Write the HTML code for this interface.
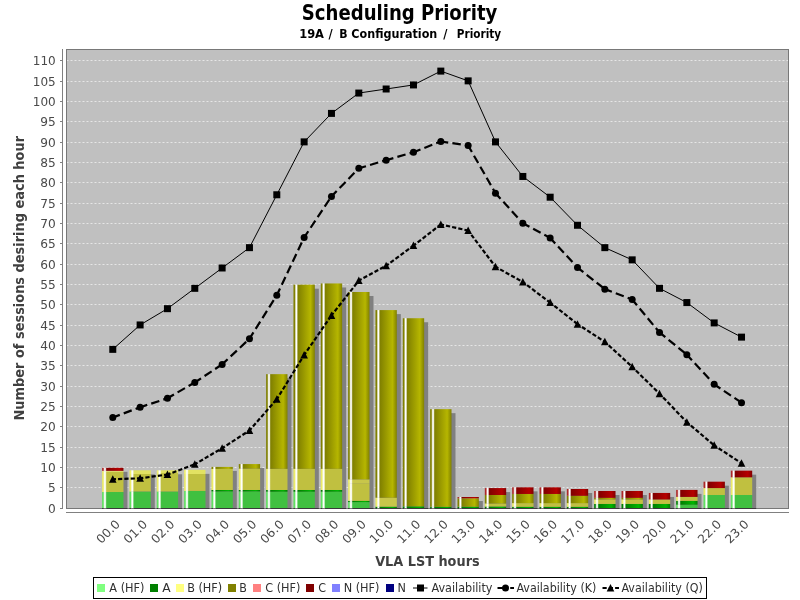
<!DOCTYPE html>
<html lang="en"><head><meta charset="utf-8"><title>Scheduling Priority</title>
<style>html,body{margin:0;padding:0;background:#fff;overflow:hidden}svg{display:block;will-change:transform}text{font-family:"DejaVu Sans Condensed","DejaVu Sans","Liberation Sans",sans-serif}text.yt,text.xt{font-family:"DejaVu Sans","Liberation Sans",sans-serif}</style></head><body>
<svg width="800" height="600" viewBox="0 0 800 600">
<defs>
<linearGradient id="pg" x1="0" x2="1" y1="0" y2="0"><stop offset="0" stop-color="#60e060"/><stop offset="0.05" stop-color="#60e060"/><stop offset="0.12" stop-color="#fff"/><stop offset="0.15" stop-color="#fff"/><stop offset="0.215" stop-color="#40c040"/><stop offset="0.80" stop-color="#40c040"/><stop offset="1" stop-color="#40c040"/></linearGradient>
<linearGradient id="pG" x1="0" x2="1" y1="0" y2="0"><stop offset="0" stop-color="#008000"/><stop offset="0.05" stop-color="#008000"/><stop offset="0.12" stop-color="#fff"/><stop offset="0.15" stop-color="#fff"/><stop offset="0.215" stop-color="#008000"/><stop offset="0.80" stop-color="#00b600"/><stop offset="1" stop-color="#008000"/></linearGradient>
<linearGradient id="py" x1="0" x2="1" y1="0" y2="0"><stop offset="0" stop-color="#eaea68"/><stop offset="0.05" stop-color="#eaea68"/><stop offset="0.12" stop-color="#fff"/><stop offset="0.15" stop-color="#fff"/><stop offset="0.215" stop-color="#c0c040"/><stop offset="0.80" stop-color="#c0c040"/><stop offset="1" stop-color="#c0c040"/></linearGradient>
<linearGradient id="pm" x1="0" x2="1" y1="0" y2="0"><stop offset="0" stop-color="#ecec6a"/><stop offset="0.05" stop-color="#ecec6a"/><stop offset="0.12" stop-color="#fff"/><stop offset="0.15" stop-color="#fff"/><stop offset="0.215" stop-color="#c8c64a"/><stop offset="0.80" stop-color="#c8c64a"/><stop offset="1" stop-color="#c8c64a"/></linearGradient>
<linearGradient id="pl" x1="0" x2="1" y1="0" y2="0"><stop offset="0" stop-color="#f0f06e"/><stop offset="0.05" stop-color="#f0f06e"/><stop offset="0.12" stop-color="#fff"/><stop offset="0.15" stop-color="#fff"/><stop offset="0.215" stop-color="#e2e262"/><stop offset="0.80" stop-color="#e2e262"/><stop offset="1" stop-color="#e2e262"/></linearGradient>
<linearGradient id="pY" x1="0" x2="1" y1="0" y2="0"><stop offset="0" stop-color="#808000"/><stop offset="0.05" stop-color="#808000"/><stop offset="0.12" stop-color="#fff"/><stop offset="0.15" stop-color="#fff"/><stop offset="0.215" stop-color="#808000"/><stop offset="0.80" stop-color="#b6b600"/><stop offset="1" stop-color="#808000"/></linearGradient>
<linearGradient id="pR" x1="0" x2="1" y1="0" y2="0"><stop offset="0" stop-color="#ac2828"/><stop offset="0.05" stop-color="#ac2828"/><stop offset="0.12" stop-color="#fff"/><stop offset="0.15" stop-color="#fff"/><stop offset="0.215" stop-color="#800000"/><stop offset="0.80" stop-color="#b60000"/><stop offset="1" stop-color="#800000"/></linearGradient>
<clipPath id="clip"><rect x="66" y="49" width="722" height="459"/></clipPath>
</defs>
<rect width="800" height="600" fill="#fff"/>
<text id="title" x="399.6" y="19.5" text-anchor="middle" font-size="21" font-weight="bold" fill="#000" lengthAdjust="spacingAndGlyphs" textLength="195.5">Scheduling Priority</text>
<text id="sub" y="38" font-size="12" font-weight="bold" fill="#000" style="white-space:pre" xml:space="preserve"><tspan x="299.2" textLength="24.8" lengthAdjust="spacingAndGlyphs">19A</tspan><tspan> </tspan><tspan x="328.5" textLength="4.2" lengthAdjust="spacingAndGlyphs">/</tspan><tspan> </tspan><tspan x="339.2" textLength="8.3" lengthAdjust="spacingAndGlyphs">B</tspan><tspan> </tspan><tspan x="351.3" textLength="86" lengthAdjust="spacingAndGlyphs">Configuration</tspan><tspan> </tspan><tspan x="443.3" textLength="4.2" lengthAdjust="spacingAndGlyphs">/</tspan><tspan> </tspan><tspan> </tspan><tspan x="456.8" textLength="44.3" lengthAdjust="spacingAndGlyphs">Priority</tspan></text>
<rect x="66" y="49" width="723" height="460" fill="#c0c0c0"/>
<line x1="66.5" y1="508.5" x2="788" y2="508.5" stroke="#fff" stroke-opacity="0.6" stroke-width="1" stroke-dasharray="2 2"/>
<line x1="66.5" y1="487.5" x2="788" y2="487.5" stroke="#fff" stroke-opacity="0.6" stroke-width="1" stroke-dasharray="2 2"/>
<line x1="66.5" y1="467.5" x2="788" y2="467.5" stroke="#fff" stroke-opacity="0.6" stroke-width="1" stroke-dasharray="2 2"/>
<line x1="66.5" y1="447.5" x2="788" y2="447.5" stroke="#fff" stroke-opacity="0.6" stroke-width="1" stroke-dasharray="2 2"/>
<line x1="66.5" y1="426.5" x2="788" y2="426.5" stroke="#fff" stroke-opacity="0.6" stroke-width="1" stroke-dasharray="2 2"/>
<line x1="66.5" y1="406.5" x2="788" y2="406.5" stroke="#fff" stroke-opacity="0.6" stroke-width="1" stroke-dasharray="2 2"/>
<line x1="66.5" y1="386.5" x2="788" y2="386.5" stroke="#fff" stroke-opacity="0.6" stroke-width="1" stroke-dasharray="2 2"/>
<line x1="66.5" y1="365.5" x2="788" y2="365.5" stroke="#fff" stroke-opacity="0.6" stroke-width="1" stroke-dasharray="2 2"/>
<line x1="66.5" y1="345.5" x2="788" y2="345.5" stroke="#fff" stroke-opacity="0.6" stroke-width="1" stroke-dasharray="2 2"/>
<line x1="66.5" y1="325.5" x2="788" y2="325.5" stroke="#fff" stroke-opacity="0.6" stroke-width="1" stroke-dasharray="2 2"/>
<line x1="66.5" y1="304.5" x2="788" y2="304.5" stroke="#fff" stroke-opacity="0.6" stroke-width="1" stroke-dasharray="2 2"/>
<line x1="66.5" y1="284.5" x2="788" y2="284.5" stroke="#fff" stroke-opacity="0.6" stroke-width="1" stroke-dasharray="2 2"/>
<line x1="66.5" y1="264.5" x2="788" y2="264.5" stroke="#fff" stroke-opacity="0.6" stroke-width="1" stroke-dasharray="2 2"/>
<line x1="66.5" y1="243.5" x2="788" y2="243.5" stroke="#fff" stroke-opacity="0.6" stroke-width="1" stroke-dasharray="2 2"/>
<line x1="66.5" y1="223.5" x2="788" y2="223.5" stroke="#fff" stroke-opacity="0.6" stroke-width="1" stroke-dasharray="2 2"/>
<line x1="66.5" y1="203.5" x2="788" y2="203.5" stroke="#fff" stroke-opacity="0.6" stroke-width="1" stroke-dasharray="2 2"/>
<line x1="66.5" y1="182.5" x2="788" y2="182.5" stroke="#fff" stroke-opacity="0.6" stroke-width="1" stroke-dasharray="2 2"/>
<line x1="66.5" y1="162.5" x2="788" y2="162.5" stroke="#fff" stroke-opacity="0.6" stroke-width="1" stroke-dasharray="2 2"/>
<line x1="66.5" y1="142.5" x2="788" y2="142.5" stroke="#fff" stroke-opacity="0.6" stroke-width="1" stroke-dasharray="2 2"/>
<line x1="66.5" y1="121.5" x2="788" y2="121.5" stroke="#fff" stroke-opacity="0.6" stroke-width="1" stroke-dasharray="2 2"/>
<line x1="66.5" y1="101.5" x2="788" y2="101.5" stroke="#fff" stroke-opacity="0.6" stroke-width="1" stroke-dasharray="2 2"/>
<line x1="66.5" y1="81.5" x2="788" y2="81.5" stroke="#fff" stroke-opacity="0.6" stroke-width="1" stroke-dasharray="2 2"/>
<line x1="66.5" y1="60.5" x2="788" y2="60.5" stroke="#fff" stroke-opacity="0.6" stroke-width="1" stroke-dasharray="2 2"/>
<g clip-path="url(#clip)">
<rect x="106.10" y="471.81" width="21.36" height="40.19" fill="#808080"/>
<rect x="133.44" y="474.29" width="21.36" height="37.71" fill="#808080"/>
<rect x="160.77" y="474.29" width="21.36" height="37.71" fill="#808080"/>
<rect x="188.11" y="473.84" width="21.36" height="38.16" fill="#808080"/>
<rect x="215.45" y="470.91" width="21.36" height="41.09" fill="#808080"/>
<rect x="242.78" y="468.07" width="21.36" height="43.93" fill="#808080"/>
<rect x="270.12" y="378.16" width="21.36" height="133.84" fill="#808080"/>
<rect x="297.46" y="288.67" width="21.36" height="223.33" fill="#808080"/>
<rect x="324.79" y="287.45" width="21.36" height="224.55" fill="#808080"/>
<rect x="352.13" y="295.99" width="21.36" height="216.01" fill="#808080"/>
<rect x="379.47" y="314.09" width="21.36" height="197.91" fill="#808080"/>
<rect x="406.80" y="322.23" width="21.36" height="189.77" fill="#808080"/>
<rect x="434.14" y="413.15" width="21.36" height="98.85" fill="#808080"/>
<rect x="461.48" y="501.02" width="21.36" height="10.98" fill="#808080"/>
<rect x="488.81" y="492.07" width="21.36" height="19.93" fill="#808080"/>
<rect x="516.15" y="491.33" width="21.36" height="20.67" fill="#808080"/>
<rect x="543.49" y="491.33" width="21.36" height="20.67" fill="#808080"/>
<rect x="570.82" y="493.00" width="21.36" height="19.00" fill="#808080"/>
<rect x="598.16" y="495.00" width="21.36" height="17.00" fill="#808080"/>
<rect x="625.50" y="495.00" width="21.36" height="17.00" fill="#808080"/>
<rect x="652.83" y="496.95" width="21.36" height="15.05" fill="#808080"/>
<rect x="680.17" y="493.90" width="21.36" height="18.10" fill="#808080"/>
<rect x="707.51" y="485.68" width="21.36" height="26.32" fill="#808080"/>
<rect x="734.84" y="474.66" width="21.36" height="37.34" fill="#808080"/>
<rect x="102.10" y="492.01" width="21.36" height="15.99" fill="url(#pg)"/>
<rect x="102.10" y="471.79" width="21.36" height="20.22" fill="url(#py)"/>
<rect x="102.10" y="470.86" width="21.36" height="0.94" fill="url(#pl)"/>
<rect x="102.10" y="467.81" width="21.36" height="3.05" fill="url(#pR)"/>
<rect x="129.44" y="491.44" width="21.36" height="16.56" fill="url(#pg)"/>
<rect x="129.44" y="473.99" width="21.36" height="17.45" fill="url(#py)"/>
<rect x="129.44" y="470.29" width="21.36" height="3.70" fill="url(#pl)"/>
<rect x="156.77" y="491.44" width="21.36" height="16.56" fill="url(#pg)"/>
<rect x="156.77" y="473.02" width="21.36" height="18.43" fill="url(#py)"/>
<rect x="156.77" y="470.29" width="21.36" height="2.73" fill="url(#pl)"/>
<rect x="184.11" y="490.91" width="21.36" height="17.09" fill="url(#pg)"/>
<rect x="184.11" y="473.99" width="21.36" height="16.92" fill="url(#py)"/>
<rect x="184.11" y="469.84" width="21.36" height="4.15" fill="url(#pl)"/>
<rect x="211.45" y="491.44" width="21.36" height="16.56" fill="url(#pg)"/>
<rect x="211.45" y="489.98" width="21.36" height="1.46" fill="url(#pG)"/>
<rect x="211.45" y="468.95" width="21.36" height="21.03" fill="url(#py)"/>
<rect x="211.45" y="466.91" width="21.36" height="2.03" fill="url(#pY)"/>
<rect x="238.78" y="491.44" width="21.36" height="16.56" fill="url(#pg)"/>
<rect x="238.78" y="489.98" width="21.36" height="1.46" fill="url(#pG)"/>
<rect x="238.78" y="468.62" width="21.36" height="21.36" fill="url(#py)"/>
<rect x="238.78" y="464.07" width="21.36" height="4.56" fill="url(#pY)"/>
<rect x="266.12" y="491.73" width="21.36" height="16.27" fill="url(#pg)"/>
<rect x="266.12" y="489.98" width="21.36" height="1.75" fill="url(#pG)"/>
<rect x="266.12" y="468.83" width="21.36" height="21.15" fill="url(#py)"/>
<rect x="266.12" y="374.16" width="21.36" height="94.66" fill="url(#pY)"/>
<rect x="293.46" y="491.73" width="21.36" height="16.27" fill="url(#pg)"/>
<rect x="293.46" y="489.98" width="21.36" height="1.75" fill="url(#pG)"/>
<rect x="293.46" y="468.83" width="21.36" height="21.15" fill="url(#py)"/>
<rect x="293.46" y="284.67" width="21.36" height="184.16" fill="url(#pY)"/>
<rect x="320.79" y="491.73" width="21.36" height="16.27" fill="url(#pg)"/>
<rect x="320.79" y="489.98" width="21.36" height="1.75" fill="url(#pG)"/>
<rect x="320.79" y="468.83" width="21.36" height="21.15" fill="url(#py)"/>
<rect x="320.79" y="283.45" width="21.36" height="185.38" fill="url(#pY)"/>
<rect x="348.13" y="502.10" width="21.36" height="5.90" fill="url(#pg)"/>
<rect x="348.13" y="500.84" width="21.36" height="1.26" fill="url(#pG)"/>
<rect x="348.13" y="483.19" width="21.36" height="17.66" fill="url(#py)"/>
<rect x="348.13" y="479.36" width="21.36" height="3.82" fill="url(#pm)"/>
<rect x="348.13" y="291.99" width="21.36" height="187.37" fill="url(#pY)"/>
<rect x="375.47" y="506.66" width="21.36" height="1.34" fill="url(#pG)"/>
<rect x="375.47" y="497.71" width="21.36" height="8.95" fill="url(#pm)"/>
<rect x="375.47" y="310.09" width="21.36" height="187.62" fill="url(#pY)"/>
<rect x="402.80" y="506.37" width="21.36" height="1.63" fill="url(#pG)"/>
<rect x="402.80" y="318.23" width="21.36" height="188.14" fill="url(#pY)"/>
<rect x="430.14" y="506.78" width="21.36" height="1.22" fill="url(#pG)"/>
<rect x="430.14" y="409.15" width="21.36" height="97.63" fill="url(#pY)"/>
<rect x="457.48" y="506.70" width="21.36" height="1.30" fill="url(#pG)"/>
<rect x="457.48" y="498.32" width="21.36" height="8.38" fill="url(#pY)"/>
<rect x="457.48" y="497.02" width="21.36" height="1.30" fill="url(#pR)"/>
<rect x="484.81" y="506.49" width="21.36" height="1.51" fill="url(#pG)"/>
<rect x="484.81" y="503.53" width="21.36" height="2.97" fill="url(#py)"/>
<rect x="484.81" y="494.98" width="21.36" height="8.54" fill="url(#pY)"/>
<rect x="484.81" y="488.07" width="21.36" height="6.92" fill="url(#pR)"/>
<rect x="512.15" y="506.78" width="21.36" height="1.22" fill="url(#pG)"/>
<rect x="512.15" y="503.12" width="21.36" height="3.66" fill="url(#py)"/>
<rect x="512.15" y="493.97" width="21.36" height="9.15" fill="url(#pY)"/>
<rect x="512.15" y="487.33" width="21.36" height="6.63" fill="url(#pR)"/>
<rect x="539.49" y="506.78" width="21.36" height="1.22" fill="url(#pG)"/>
<rect x="539.49" y="503.12" width="21.36" height="3.66" fill="url(#py)"/>
<rect x="539.49" y="493.97" width="21.36" height="9.15" fill="url(#pY)"/>
<rect x="539.49" y="487.33" width="21.36" height="6.63" fill="url(#pR)"/>
<rect x="566.82" y="506.78" width="21.36" height="1.22" fill="url(#pG)"/>
<rect x="566.82" y="503.12" width="21.36" height="3.66" fill="url(#py)"/>
<rect x="566.82" y="495.80" width="21.36" height="7.32" fill="url(#pY)"/>
<rect x="566.82" y="489.00" width="21.36" height="6.79" fill="url(#pR)"/>
<rect x="594.16" y="503.93" width="21.36" height="4.07" fill="url(#pG)"/>
<rect x="594.16" y="499.46" width="21.36" height="4.47" fill="url(#py)"/>
<rect x="594.16" y="497.83" width="21.36" height="1.63" fill="url(#pY)"/>
<rect x="594.16" y="491.00" width="21.36" height="6.83" fill="url(#pR)"/>
<rect x="621.50" y="503.93" width="21.36" height="4.07" fill="url(#pG)"/>
<rect x="621.50" y="499.46" width="21.36" height="4.47" fill="url(#py)"/>
<rect x="621.50" y="497.83" width="21.36" height="1.63" fill="url(#pY)"/>
<rect x="621.50" y="491.00" width="21.36" height="6.83" fill="url(#pR)"/>
<rect x="648.83" y="503.93" width="21.36" height="4.07" fill="url(#pG)"/>
<rect x="648.83" y="499.46" width="21.36" height="4.47" fill="url(#py)"/>
<rect x="648.83" y="492.95" width="21.36" height="6.51" fill="url(#pR)"/>
<rect x="676.17" y="504.75" width="21.36" height="3.25" fill="url(#pg)"/>
<rect x="676.17" y="500.88" width="21.36" height="3.86" fill="url(#pG)"/>
<rect x="676.17" y="496.89" width="21.36" height="3.99" fill="url(#py)"/>
<rect x="676.17" y="489.90" width="21.36" height="7.00" fill="url(#pR)"/>
<rect x="703.51" y="494.98" width="21.36" height="13.02" fill="url(#pg)"/>
<rect x="703.51" y="488.07" width="21.36" height="6.92" fill="url(#py)"/>
<rect x="703.51" y="481.68" width="21.36" height="6.39" fill="url(#pR)"/>
<rect x="730.84" y="494.98" width="21.36" height="13.02" fill="url(#pg)"/>
<rect x="730.84" y="477.29" width="21.36" height="17.70" fill="url(#py)"/>
<rect x="730.84" y="470.66" width="21.36" height="6.63" fill="url(#pR)"/>
</g>
<g fill="none" stroke="#000"><line x1="112.78" y1="349.35" x2="140.12" y2="324.94" stroke-width="1"/><line x1="140.12" y1="324.94" x2="167.45" y2="308.67" stroke-width="1"/><line x1="167.45" y1="308.67" x2="194.79" y2="288.33" stroke-width="1"/><line x1="194.79" y1="288.33" x2="222.13" y2="267.99" stroke-width="1"/><line x1="222.13" y1="267.99" x2="249.46" y2="247.65" stroke-width="1"/><line x1="249.46" y1="247.65" x2="276.80" y2="194.76" stroke-width="1"/><line x1="276.80" y1="194.76" x2="304.14" y2="141.88" stroke-width="1"/><line x1="304.14" y1="141.88" x2="331.47" y2="113.40" stroke-width="1"/><line x1="331.47" y1="113.40" x2="358.81" y2="93.06" stroke-width="1"/><line x1="358.81" y1="93.06" x2="386.15" y2="89.00" stroke-width="1"/><line x1="386.15" y1="89.00" x2="413.48" y2="84.93" stroke-width="1"/><line x1="413.48" y1="84.93" x2="440.82" y2="71.10" stroke-width="1"/><line x1="440.82" y1="71.10" x2="468.15" y2="80.86" stroke-width="1"/><line x1="468.15" y1="80.86" x2="495.49" y2="141.88" stroke-width="1"/><line x1="495.49" y1="141.88" x2="522.83" y2="176.46" stroke-width="1"/><line x1="522.83" y1="176.46" x2="550.16" y2="197.20" stroke-width="1"/><line x1="550.16" y1="197.20" x2="577.50" y2="225.27" stroke-width="1"/><line x1="577.50" y1="225.27" x2="604.84" y2="247.65" stroke-width="1"/><line x1="604.84" y1="247.65" x2="632.17" y2="259.85" stroke-width="1"/><line x1="632.17" y1="259.85" x2="659.51" y2="288.33" stroke-width="1"/><line x1="659.51" y1="288.33" x2="686.85" y2="302.57" stroke-width="1"/><line x1="686.85" y1="302.57" x2="714.18" y2="322.91" stroke-width="1"/><line x1="714.18" y1="322.91" x2="741.52" y2="337.14" stroke-width="1"/></g>
<g fill="none" stroke="#000"><line x1="112.78" y1="417.49" x2="140.12" y2="407.24" stroke-width="2.2" stroke-dasharray="8.5 4.2" stroke-dashoffset="1"/><line x1="140.12" y1="407.24" x2="167.45" y2="398.25" stroke-width="2.2" stroke-dasharray="8.5 4.2" stroke-dashoffset="1"/><line x1="167.45" y1="398.25" x2="194.79" y2="382.50" stroke-width="2.2" stroke-dasharray="8.5 4.2" stroke-dashoffset="1"/><line x1="194.79" y1="382.50" x2="222.13" y2="364.40" stroke-width="2.2" stroke-dasharray="8.5 4.2" stroke-dashoffset="1"/><line x1="222.13" y1="364.40" x2="249.46" y2="338.77" stroke-width="2.2" stroke-dasharray="8.5 4.2" stroke-dashoffset="1"/><line x1="249.46" y1="338.77" x2="276.80" y2="295.24" stroke-width="2.2" stroke-dasharray="8.5 4.2" stroke-dashoffset="1"/><line x1="276.80" y1="295.24" x2="304.14" y2="237.48" stroke-width="2.2" stroke-dasharray="8.5 4.2" stroke-dashoffset="1"/><line x1="304.14" y1="237.48" x2="331.47" y2="196.39" stroke-width="2.2" stroke-dasharray="8.5 4.2" stroke-dashoffset="1"/><line x1="331.47" y1="196.39" x2="358.81" y2="168.32" stroke-width="2.2" stroke-dasharray="8.5 4.2" stroke-dashoffset="1"/><line x1="358.81" y1="168.32" x2="386.15" y2="160.19" stroke-width="2.2" stroke-dasharray="8.5 4.2" stroke-dashoffset="1"/><line x1="386.15" y1="160.19" x2="413.48" y2="152.25" stroke-width="2.2" stroke-dasharray="8.5 4.2" stroke-dashoffset="1"/><line x1="413.48" y1="152.25" x2="440.82" y2="141.47" stroke-width="2.2" stroke-dasharray="8.5 4.2" stroke-dashoffset="1"/><line x1="440.82" y1="141.47" x2="468.15" y2="145.54" stroke-width="2.2" stroke-dasharray="8.5 4.2" stroke-dashoffset="1"/><line x1="468.15" y1="145.54" x2="495.49" y2="193.14" stroke-width="2.2" stroke-dasharray="8.5 4.2" stroke-dashoffset="1"/><line x1="495.49" y1="193.14" x2="522.83" y2="223.24" stroke-width="2.2" stroke-dasharray="8.5 4.2" stroke-dashoffset="1"/><line x1="522.83" y1="223.24" x2="550.16" y2="237.88" stroke-width="2.2" stroke-dasharray="8.5 4.2" stroke-dashoffset="1"/><line x1="550.16" y1="237.88" x2="577.50" y2="267.58" stroke-width="2.2" stroke-dasharray="8.5 4.2" stroke-dashoffset="1"/><line x1="577.50" y1="267.58" x2="604.84" y2="289.14" stroke-width="2.2" stroke-dasharray="8.5 4.2" stroke-dashoffset="1"/><line x1="604.84" y1="289.14" x2="632.17" y2="299.51" stroke-width="2.2" stroke-dasharray="8.5 4.2" stroke-dashoffset="1"/><line x1="632.17" y1="299.51" x2="659.51" y2="332.47" stroke-width="2.2" stroke-dasharray="8.5 4.2" stroke-dashoffset="1"/><line x1="659.51" y1="332.47" x2="686.85" y2="354.64" stroke-width="2.2" stroke-dasharray="8.5 4.2" stroke-dashoffset="1"/><line x1="686.85" y1="354.64" x2="714.18" y2="384.33" stroke-width="2.2" stroke-dasharray="8.5 4.2" stroke-dashoffset="1"/><line x1="714.18" y1="384.33" x2="741.52" y2="402.64" stroke-width="2.2" stroke-dasharray="8.5 4.2" stroke-dashoffset="1"/></g>
<g fill="none" stroke="#000"><line x1="112.78" y1="479.24" x2="140.12" y2="478.30" stroke-width="2.2" stroke-dasharray="4.2 2.1" stroke-dashoffset="1"/><line x1="140.12" y1="478.30" x2="167.45" y2="474.52" stroke-width="2.2" stroke-dasharray="4.2 2.1" stroke-dashoffset="1"/><line x1="167.45" y1="474.52" x2="194.79" y2="464.27" stroke-width="2.2" stroke-dasharray="4.2 2.1" stroke-dashoffset="1"/><line x1="194.79" y1="464.27" x2="222.13" y2="448.20" stroke-width="2.2" stroke-dasharray="4.2 2.1" stroke-dashoffset="1"/><line x1="222.13" y1="448.20" x2="249.46" y2="430.50" stroke-width="2.2" stroke-dasharray="4.2 2.1" stroke-dashoffset="1"/><line x1="249.46" y1="430.50" x2="276.80" y2="399.18" stroke-width="2.2" stroke-dasharray="4.2 2.1" stroke-dashoffset="1"/><line x1="276.80" y1="399.18" x2="304.14" y2="355.04" stroke-width="2.2" stroke-dasharray="4.2 2.1" stroke-dashoffset="1"/><line x1="304.14" y1="355.04" x2="331.47" y2="315.38" stroke-width="2.2" stroke-dasharray="4.2 2.1" stroke-dashoffset="1"/><line x1="331.47" y1="315.38" x2="358.81" y2="280.60" stroke-width="2.2" stroke-dasharray="4.2 2.1" stroke-dashoffset="1"/><line x1="358.81" y1="280.60" x2="386.15" y2="265.75" stroke-width="2.2" stroke-dasharray="4.2 2.1" stroke-dashoffset="1"/><line x1="386.15" y1="265.75" x2="413.48" y2="245.61" stroke-width="2.2" stroke-dasharray="4.2 2.1" stroke-dashoffset="1"/><line x1="413.48" y1="245.61" x2="440.82" y2="224.46" stroke-width="2.2" stroke-dasharray="4.2 2.1" stroke-dashoffset="1"/><line x1="440.82" y1="224.46" x2="468.15" y2="230.56" stroke-width="2.2" stroke-dasharray="4.2 2.1" stroke-dashoffset="1"/><line x1="468.15" y1="230.56" x2="495.49" y2="266.77" stroke-width="2.2" stroke-dasharray="4.2 2.1" stroke-dashoffset="1"/><line x1="495.49" y1="266.77" x2="522.83" y2="282.02" stroke-width="2.2" stroke-dasharray="4.2 2.1" stroke-dashoffset="1"/><line x1="522.83" y1="282.02" x2="550.16" y2="302.57" stroke-width="2.2" stroke-dasharray="4.2 2.1" stroke-dashoffset="1"/><line x1="550.16" y1="302.57" x2="577.50" y2="324.13" stroke-width="2.2" stroke-dasharray="4.2 2.1" stroke-dashoffset="1"/><line x1="577.50" y1="324.13" x2="604.84" y2="341.82" stroke-width="2.2" stroke-dasharray="4.2 2.1" stroke-dashoffset="1"/><line x1="604.84" y1="341.82" x2="632.17" y2="366.84" stroke-width="2.2" stroke-dasharray="4.2 2.1" stroke-dashoffset="1"/><line x1="632.17" y1="366.84" x2="659.51" y2="393.69" stroke-width="2.2" stroke-dasharray="4.2 2.1" stroke-dashoffset="1"/><line x1="659.51" y1="393.69" x2="686.85" y2="422.17" stroke-width="2.2" stroke-dasharray="4.2 2.1" stroke-dashoffset="1"/><line x1="686.85" y1="422.17" x2="714.18" y2="445.35" stroke-width="2.2" stroke-dasharray="4.2 2.1" stroke-dashoffset="1"/><line x1="714.18" y1="445.35" x2="741.52" y2="463.25" stroke-width="2.2" stroke-dasharray="4.2 2.1" stroke-dashoffset="1"/></g>
<rect x="109.28" y="345.85" width="7" height="7" fill="#000"/>
<rect x="136.62" y="321.44" width="7" height="7" fill="#000"/>
<rect x="163.95" y="305.17" width="7" height="7" fill="#000"/>
<rect x="191.29" y="284.83" width="7" height="7" fill="#000"/>
<rect x="218.63" y="264.49" width="7" height="7" fill="#000"/>
<rect x="245.96" y="244.15" width="7" height="7" fill="#000"/>
<rect x="273.30" y="191.26" width="7" height="7" fill="#000"/>
<rect x="300.64" y="138.38" width="7" height="7" fill="#000"/>
<rect x="327.97" y="109.90" width="7" height="7" fill="#000"/>
<rect x="355.31" y="89.56" width="7" height="7" fill="#000"/>
<rect x="382.65" y="85.50" width="7" height="7" fill="#000"/>
<rect x="409.98" y="81.43" width="7" height="7" fill="#000"/>
<rect x="437.32" y="67.60" width="7" height="7" fill="#000"/>
<rect x="464.65" y="77.36" width="7" height="7" fill="#000"/>
<rect x="491.99" y="138.38" width="7" height="7" fill="#000"/>
<rect x="519.33" y="172.96" width="7" height="7" fill="#000"/>
<rect x="546.66" y="193.70" width="7" height="7" fill="#000"/>
<rect x="574.00" y="221.77" width="7" height="7" fill="#000"/>
<rect x="601.34" y="244.15" width="7" height="7" fill="#000"/>
<rect x="628.67" y="256.35" width="7" height="7" fill="#000"/>
<rect x="656.01" y="284.83" width="7" height="7" fill="#000"/>
<rect x="683.35" y="299.07" width="7" height="7" fill="#000"/>
<rect x="710.68" y="319.41" width="7" height="7" fill="#000"/>
<rect x="738.02" y="333.64" width="7" height="7" fill="#000"/>
<circle cx="112.78" cy="417.49" r="3.5" fill="#000"/>
<circle cx="140.12" cy="407.24" r="3.5" fill="#000"/>
<circle cx="167.45" cy="398.25" r="3.5" fill="#000"/>
<circle cx="194.79" cy="382.50" r="3.5" fill="#000"/>
<circle cx="222.13" cy="364.40" r="3.5" fill="#000"/>
<circle cx="249.46" cy="338.77" r="3.5" fill="#000"/>
<circle cx="276.80" cy="295.24" r="3.5" fill="#000"/>
<circle cx="304.14" cy="237.48" r="3.5" fill="#000"/>
<circle cx="331.47" cy="196.39" r="3.5" fill="#000"/>
<circle cx="358.81" cy="168.32" r="3.5" fill="#000"/>
<circle cx="386.15" cy="160.19" r="3.5" fill="#000"/>
<circle cx="413.48" cy="152.25" r="3.5" fill="#000"/>
<circle cx="440.82" cy="141.47" r="3.5" fill="#000"/>
<circle cx="468.15" cy="145.54" r="3.5" fill="#000"/>
<circle cx="495.49" cy="193.14" r="3.5" fill="#000"/>
<circle cx="522.83" cy="223.24" r="3.5" fill="#000"/>
<circle cx="550.16" cy="237.88" r="3.5" fill="#000"/>
<circle cx="577.50" cy="267.58" r="3.5" fill="#000"/>
<circle cx="604.84" cy="289.14" r="3.5" fill="#000"/>
<circle cx="632.17" cy="299.51" r="3.5" fill="#000"/>
<circle cx="659.51" cy="332.47" r="3.5" fill="#000"/>
<circle cx="686.85" cy="354.64" r="3.5" fill="#000"/>
<circle cx="714.18" cy="384.33" r="3.5" fill="#000"/>
<circle cx="741.52" cy="402.64" r="3.5" fill="#000"/>
<path d="M112.78 475.24 L116.58 482.74 L108.98 482.74 Z" fill="#000"/>
<path d="M140.12 474.30 L143.92 481.80 L136.32 481.80 Z" fill="#000"/>
<path d="M167.45 470.52 L171.25 478.02 L163.65 478.02 Z" fill="#000"/>
<path d="M194.79 460.27 L198.59 467.77 L190.99 467.77 Z" fill="#000"/>
<path d="M222.13 444.20 L225.93 451.70 L218.33 451.70 Z" fill="#000"/>
<path d="M249.46 426.50 L253.26 434.00 L245.66 434.00 Z" fill="#000"/>
<path d="M276.80 395.18 L280.60 402.68 L273.00 402.68 Z" fill="#000"/>
<path d="M304.14 351.04 L307.94 358.54 L300.34 358.54 Z" fill="#000"/>
<path d="M331.47 311.38 L335.27 318.88 L327.67 318.88 Z" fill="#000"/>
<path d="M358.81 276.60 L362.61 284.10 L355.01 284.10 Z" fill="#000"/>
<path d="M386.15 261.75 L389.95 269.25 L382.35 269.25 Z" fill="#000"/>
<path d="M413.48 241.61 L417.28 249.11 L409.68 249.11 Z" fill="#000"/>
<path d="M440.82 220.46 L444.62 227.96 L437.02 227.96 Z" fill="#000"/>
<path d="M468.15 226.56 L471.95 234.06 L464.35 234.06 Z" fill="#000"/>
<path d="M495.49 262.77 L499.29 270.27 L491.69 270.27 Z" fill="#000"/>
<path d="M522.83 278.02 L526.63 285.52 L519.03 285.52 Z" fill="#000"/>
<path d="M550.16 298.57 L553.96 306.07 L546.36 306.07 Z" fill="#000"/>
<path d="M577.50 320.13 L581.30 327.63 L573.70 327.63 Z" fill="#000"/>
<path d="M604.84 337.82 L608.64 345.32 L601.04 345.32 Z" fill="#000"/>
<path d="M632.17 362.84 L635.97 370.34 L628.37 370.34 Z" fill="#000"/>
<path d="M659.51 389.69 L663.31 397.19 L655.71 397.19 Z" fill="#000"/>
<path d="M686.85 418.17 L690.65 425.67 L683.05 425.67 Z" fill="#000"/>
<path d="M714.18 441.35 L717.98 448.85 L710.38 448.85 Z" fill="#000"/>
<path d="M741.52 459.25 L745.32 466.75 L737.72 466.75 Z" fill="#000"/>
<rect x="66.5" y="49.5" width="722" height="459" fill="none" stroke="#787878" stroke-width="1"/>
<path d="M102.10 508.5 H103.60 M106.37 508.5 H127.46" stroke="#3a3a3a" stroke-width="1" fill="none"/>
<path d="M129.44 508.5 H130.93 M133.71 508.5 H154.79" stroke="#3a3a3a" stroke-width="1" fill="none"/>
<path d="M156.77 508.5 H158.27 M161.04 508.5 H182.13" stroke="#3a3a3a" stroke-width="1" fill="none"/>
<path d="M184.11 508.5 H185.60 M188.38 508.5 H209.47" stroke="#3a3a3a" stroke-width="1" fill="none"/>
<path d="M211.45 508.5 H212.94 M215.72 508.5 H236.80" stroke="#3a3a3a" stroke-width="1" fill="none"/>
<path d="M238.78 508.5 H240.28 M243.05 508.5 H264.14" stroke="#3a3a3a" stroke-width="1" fill="none"/>
<path d="M266.12 508.5 H267.61 M270.39 508.5 H291.48" stroke="#3a3a3a" stroke-width="1" fill="none"/>
<path d="M293.46 508.5 H294.95 M297.73 508.5 H318.81" stroke="#3a3a3a" stroke-width="1" fill="none"/>
<path d="M320.79 508.5 H322.29 M325.06 508.5 H346.15" stroke="#3a3a3a" stroke-width="1" fill="none"/>
<path d="M348.13 508.5 H349.62 M352.40 508.5 H373.49" stroke="#3a3a3a" stroke-width="1" fill="none"/>
<path d="M375.47 508.5 H376.96 M379.74 508.5 H400.82" stroke="#3a3a3a" stroke-width="1" fill="none"/>
<path d="M402.80 508.5 H404.30 M407.07 508.5 H428.16" stroke="#3a3a3a" stroke-width="1" fill="none"/>
<path d="M430.14 508.5 H431.63 M434.41 508.5 H455.50" stroke="#3a3a3a" stroke-width="1" fill="none"/>
<path d="M457.48 508.5 H458.97 M461.75 508.5 H482.83" stroke="#3a3a3a" stroke-width="1" fill="none"/>
<path d="M484.81 508.5 H486.31 M489.08 508.5 H510.17" stroke="#3a3a3a" stroke-width="1" fill="none"/>
<path d="M512.15 508.5 H513.64 M516.42 508.5 H537.51" stroke="#3a3a3a" stroke-width="1" fill="none"/>
<path d="M539.49 508.5 H540.98 M543.76 508.5 H564.84" stroke="#3a3a3a" stroke-width="1" fill="none"/>
<path d="M566.82 508.5 H568.32 M571.09 508.5 H592.18" stroke="#3a3a3a" stroke-width="1" fill="none"/>
<path d="M594.16 508.5 H595.65 M598.43 508.5 H619.52" stroke="#3a3a3a" stroke-width="1" fill="none"/>
<path d="M621.50 508.5 H622.99 M625.77 508.5 H646.85" stroke="#3a3a3a" stroke-width="1" fill="none"/>
<path d="M648.83 508.5 H650.33 M653.10 508.5 H674.19" stroke="#3a3a3a" stroke-width="1" fill="none"/>
<path d="M676.17 508.5 H677.66 M680.44 508.5 H701.53" stroke="#3a3a3a" stroke-width="1" fill="none"/>
<path d="M703.51 508.5 H705.00 M707.78 508.5 H728.86" stroke="#3a3a3a" stroke-width="1" fill="none"/>
<path d="M730.84 508.5 H732.34 M735.11 508.5 H756.20" stroke="#3a3a3a" stroke-width="1" fill="none"/>
<line x1="62.5" y1="49" x2="62.5" y2="509" stroke="#808080" stroke-width="1"/>
<line x1="60" y1="508.5" x2="62" y2="508.5" stroke="#808080" stroke-width="1"/>
<text class="yt" x="55.7" y="512.9" text-anchor="end" font-size="12" fill="#4a4a4a" lengthAdjust="spacingAndGlyphs" textLength="7.75">0</text>
<line x1="60" y1="487.5" x2="62" y2="487.5" stroke="#808080" stroke-width="1"/>
<text class="yt" x="55.7" y="491.9" text-anchor="end" font-size="12" fill="#4a4a4a" lengthAdjust="spacingAndGlyphs" textLength="7.75">5</text>
<line x1="60" y1="467.5" x2="62" y2="467.5" stroke="#808080" stroke-width="1"/>
<text class="yt" x="55.7" y="471.9" text-anchor="end" font-size="12" fill="#4a4a4a" lengthAdjust="spacingAndGlyphs" textLength="15.5">10</text>
<line x1="60" y1="447.5" x2="62" y2="447.5" stroke="#808080" stroke-width="1"/>
<text class="yt" x="55.7" y="451.9" text-anchor="end" font-size="12" fill="#4a4a4a" lengthAdjust="spacingAndGlyphs" textLength="15.5">15</text>
<line x1="60" y1="426.5" x2="62" y2="426.5" stroke="#808080" stroke-width="1"/>
<text class="yt" x="55.7" y="430.9" text-anchor="end" font-size="12" fill="#4a4a4a" lengthAdjust="spacingAndGlyphs" textLength="15.5">20</text>
<line x1="60" y1="406.5" x2="62" y2="406.5" stroke="#808080" stroke-width="1"/>
<text class="yt" x="55.7" y="410.9" text-anchor="end" font-size="12" fill="#4a4a4a" lengthAdjust="spacingAndGlyphs" textLength="15.5">25</text>
<line x1="60" y1="386.5" x2="62" y2="386.5" stroke="#808080" stroke-width="1"/>
<text class="yt" x="55.7" y="390.9" text-anchor="end" font-size="12" fill="#4a4a4a" lengthAdjust="spacingAndGlyphs" textLength="15.5">30</text>
<line x1="60" y1="365.5" x2="62" y2="365.5" stroke="#808080" stroke-width="1"/>
<text class="yt" x="55.7" y="369.9" text-anchor="end" font-size="12" fill="#4a4a4a" lengthAdjust="spacingAndGlyphs" textLength="15.5">35</text>
<line x1="60" y1="345.5" x2="62" y2="345.5" stroke="#808080" stroke-width="1"/>
<text class="yt" x="55.7" y="349.9" text-anchor="end" font-size="12" fill="#4a4a4a" lengthAdjust="spacingAndGlyphs" textLength="15.5">40</text>
<line x1="60" y1="325.5" x2="62" y2="325.5" stroke="#808080" stroke-width="1"/>
<text class="yt" x="55.7" y="329.9" text-anchor="end" font-size="12" fill="#4a4a4a" lengthAdjust="spacingAndGlyphs" textLength="15.5">45</text>
<line x1="60" y1="304.5" x2="62" y2="304.5" stroke="#808080" stroke-width="1"/>
<text class="yt" x="55.7" y="308.9" text-anchor="end" font-size="12" fill="#4a4a4a" lengthAdjust="spacingAndGlyphs" textLength="15.5">50</text>
<line x1="60" y1="284.5" x2="62" y2="284.5" stroke="#808080" stroke-width="1"/>
<text class="yt" x="55.7" y="288.9" text-anchor="end" font-size="12" fill="#4a4a4a" lengthAdjust="spacingAndGlyphs" textLength="15.5">55</text>
<line x1="60" y1="264.5" x2="62" y2="264.5" stroke="#808080" stroke-width="1"/>
<text class="yt" x="55.7" y="268.9" text-anchor="end" font-size="12" fill="#4a4a4a" lengthAdjust="spacingAndGlyphs" textLength="15.5">60</text>
<line x1="60" y1="243.5" x2="62" y2="243.5" stroke="#808080" stroke-width="1"/>
<text class="yt" x="55.7" y="247.9" text-anchor="end" font-size="12" fill="#4a4a4a" lengthAdjust="spacingAndGlyphs" textLength="15.5">65</text>
<line x1="60" y1="223.5" x2="62" y2="223.5" stroke="#808080" stroke-width="1"/>
<text class="yt" x="55.7" y="227.9" text-anchor="end" font-size="12" fill="#4a4a4a" lengthAdjust="spacingAndGlyphs" textLength="15.5">70</text>
<line x1="60" y1="203.5" x2="62" y2="203.5" stroke="#808080" stroke-width="1"/>
<text class="yt" x="55.7" y="207.9" text-anchor="end" font-size="12" fill="#4a4a4a" lengthAdjust="spacingAndGlyphs" textLength="15.5">75</text>
<line x1="60" y1="182.5" x2="62" y2="182.5" stroke="#808080" stroke-width="1"/>
<text class="yt" x="55.7" y="186.9" text-anchor="end" font-size="12" fill="#4a4a4a" lengthAdjust="spacingAndGlyphs" textLength="15.5">80</text>
<line x1="60" y1="162.5" x2="62" y2="162.5" stroke="#808080" stroke-width="1"/>
<text class="yt" x="55.7" y="166.9" text-anchor="end" font-size="12" fill="#4a4a4a" lengthAdjust="spacingAndGlyphs" textLength="15.5">85</text>
<line x1="60" y1="142.5" x2="62" y2="142.5" stroke="#808080" stroke-width="1"/>
<text class="yt" x="55.7" y="146.9" text-anchor="end" font-size="12" fill="#4a4a4a" lengthAdjust="spacingAndGlyphs" textLength="15.5">90</text>
<line x1="60" y1="121.5" x2="62" y2="121.5" stroke="#808080" stroke-width="1"/>
<text class="yt" x="55.7" y="125.9" text-anchor="end" font-size="12" fill="#4a4a4a" lengthAdjust="spacingAndGlyphs" textLength="15.5">95</text>
<line x1="60" y1="101.5" x2="62" y2="101.5" stroke="#808080" stroke-width="1"/>
<text class="yt" x="55.7" y="105.9" text-anchor="end" font-size="12" fill="#4a4a4a" lengthAdjust="spacingAndGlyphs" textLength="22.95">100</text>
<line x1="60" y1="81.5" x2="62" y2="81.5" stroke="#808080" stroke-width="1"/>
<text class="yt" x="55.7" y="85.9" text-anchor="end" font-size="12" fill="#4a4a4a" lengthAdjust="spacingAndGlyphs" textLength="22.95">105</text>
<line x1="60" y1="60.5" x2="62" y2="60.5" stroke="#808080" stroke-width="1"/>
<text class="yt" x="55.7" y="64.9" text-anchor="end" font-size="12" fill="#4a4a4a" lengthAdjust="spacingAndGlyphs" textLength="22.95">110</text>
<line x1="66" y1="512.5" x2="789" y2="512.5" stroke="#808080" stroke-width="1"/>
<text class="xt" transform="translate(113.98 518.2) rotate(-45)" text-anchor="end" font-size="12" fill="#4a4a4a" dy="9.5" lengthAdjust="spacingAndGlyphs" textLength="27.5">00.0</text>
<text class="xt" transform="translate(141.32 518.2) rotate(-45)" text-anchor="end" font-size="12" fill="#4a4a4a" dy="9.5" lengthAdjust="spacingAndGlyphs" textLength="27.5">01.0</text>
<text class="xt" transform="translate(168.65 518.2) rotate(-45)" text-anchor="end" font-size="12" fill="#4a4a4a" dy="9.5" lengthAdjust="spacingAndGlyphs" textLength="27.5">02.0</text>
<text class="xt" transform="translate(195.99 518.2) rotate(-45)" text-anchor="end" font-size="12" fill="#4a4a4a" dy="9.5" lengthAdjust="spacingAndGlyphs" textLength="27.5">03.0</text>
<text class="xt" transform="translate(223.33 518.2) rotate(-45)" text-anchor="end" font-size="12" fill="#4a4a4a" dy="9.5" lengthAdjust="spacingAndGlyphs" textLength="27.5">04.0</text>
<text class="xt" transform="translate(250.66 518.2) rotate(-45)" text-anchor="end" font-size="12" fill="#4a4a4a" dy="9.5" lengthAdjust="spacingAndGlyphs" textLength="27.5">05.0</text>
<text class="xt" transform="translate(278.00 518.2) rotate(-45)" text-anchor="end" font-size="12" fill="#4a4a4a" dy="9.5" lengthAdjust="spacingAndGlyphs" textLength="27.5">06.0</text>
<text class="xt" transform="translate(305.34 518.2) rotate(-45)" text-anchor="end" font-size="12" fill="#4a4a4a" dy="9.5" lengthAdjust="spacingAndGlyphs" textLength="27.5">07.0</text>
<text class="xt" transform="translate(332.67 518.2) rotate(-45)" text-anchor="end" font-size="12" fill="#4a4a4a" dy="9.5" lengthAdjust="spacingAndGlyphs" textLength="27.5">08.0</text>
<text class="xt" transform="translate(360.01 518.2) rotate(-45)" text-anchor="end" font-size="12" fill="#4a4a4a" dy="9.5" lengthAdjust="spacingAndGlyphs" textLength="27.5">09.0</text>
<text class="xt" transform="translate(387.35 518.2) rotate(-45)" text-anchor="end" font-size="12" fill="#4a4a4a" dy="9.5" lengthAdjust="spacingAndGlyphs" textLength="27.5">10.0</text>
<text class="xt" transform="translate(414.68 518.2) rotate(-45)" text-anchor="end" font-size="12" fill="#4a4a4a" dy="9.5" lengthAdjust="spacingAndGlyphs" textLength="27.5">11.0</text>
<text class="xt" transform="translate(442.02 518.2) rotate(-45)" text-anchor="end" font-size="12" fill="#4a4a4a" dy="9.5" lengthAdjust="spacingAndGlyphs" textLength="27.5">12.0</text>
<text class="xt" transform="translate(469.35 518.2) rotate(-45)" text-anchor="end" font-size="12" fill="#4a4a4a" dy="9.5" lengthAdjust="spacingAndGlyphs" textLength="27.5">13.0</text>
<text class="xt" transform="translate(496.69 518.2) rotate(-45)" text-anchor="end" font-size="12" fill="#4a4a4a" dy="9.5" lengthAdjust="spacingAndGlyphs" textLength="27.5">14.0</text>
<text class="xt" transform="translate(524.03 518.2) rotate(-45)" text-anchor="end" font-size="12" fill="#4a4a4a" dy="9.5" lengthAdjust="spacingAndGlyphs" textLength="27.5">15.0</text>
<text class="xt" transform="translate(551.36 518.2) rotate(-45)" text-anchor="end" font-size="12" fill="#4a4a4a" dy="9.5" lengthAdjust="spacingAndGlyphs" textLength="27.5">16.0</text>
<text class="xt" transform="translate(578.70 518.2) rotate(-45)" text-anchor="end" font-size="12" fill="#4a4a4a" dy="9.5" lengthAdjust="spacingAndGlyphs" textLength="27.5">17.0</text>
<text class="xt" transform="translate(606.04 518.2) rotate(-45)" text-anchor="end" font-size="12" fill="#4a4a4a" dy="9.5" lengthAdjust="spacingAndGlyphs" textLength="27.5">18.0</text>
<text class="xt" transform="translate(633.37 518.2) rotate(-45)" text-anchor="end" font-size="12" fill="#4a4a4a" dy="9.5" lengthAdjust="spacingAndGlyphs" textLength="27.5">19.0</text>
<text class="xt" transform="translate(660.71 518.2) rotate(-45)" text-anchor="end" font-size="12" fill="#4a4a4a" dy="9.5" lengthAdjust="spacingAndGlyphs" textLength="27.5">20.0</text>
<text class="xt" transform="translate(688.05 518.2) rotate(-45)" text-anchor="end" font-size="12" fill="#4a4a4a" dy="9.5" lengthAdjust="spacingAndGlyphs" textLength="27.5">21.0</text>
<text class="xt" transform="translate(715.38 518.2) rotate(-45)" text-anchor="end" font-size="12" fill="#4a4a4a" dy="9.5" lengthAdjust="spacingAndGlyphs" textLength="27.5">22.0</text>
<text class="xt" transform="translate(742.72 518.2) rotate(-45)" text-anchor="end" font-size="12" fill="#4a4a4a" dy="9.5" lengthAdjust="spacingAndGlyphs" textLength="27.5">23.0</text>
<text id="xl" x="427.4" lengthAdjust="spacingAndGlyphs" textLength="104.5" y="565.5" text-anchor="middle" font-size="14" font-weight="bold" fill="#404040">VLA LST hours</text>
<text id="yl" transform="translate(24.3 278.2) rotate(-90)" lengthAdjust="spacingAndGlyphs" textLength="284.5" text-anchor="middle" font-size="14" font-weight="bold" fill="#404040">Number of sessions desiring each hour</text>
<rect x="93.5" y="577.5" width="613" height="21" fill="#fff" stroke="#000" stroke-width="1"/>
<rect x="97" y="584" width="8" height="8" fill="#80ff80"/>
<text class="lg" x="109.3" y="592" font-size="12" fill="#303030" lengthAdjust="spacingAndGlyphs" textLength="35.2">A (HF)</text>
<rect x="150" y="584" width="8" height="8" fill="#008000"/>
<text class="lg" x="162.3" y="592" font-size="12" fill="#303030" lengthAdjust="spacingAndGlyphs" textLength="8.4">A</text>
<rect x="176" y="584" width="8" height="8" fill="#ffff80"/>
<text class="lg" x="187.2" y="592" font-size="12" fill="#303030" lengthAdjust="spacingAndGlyphs" textLength="35">B (HF)</text>
<rect x="228" y="584" width="8" height="8" fill="#808000"/>
<text class="lg" x="239.2" y="592" font-size="12" fill="#303030" lengthAdjust="spacingAndGlyphs" textLength="7.6">B</text>
<rect x="253" y="584" width="8" height="8" fill="#ff8080"/>
<text class="lg" x="265.2" y="592" font-size="12" fill="#303030" lengthAdjust="spacingAndGlyphs" textLength="35.2">C (HF)</text>
<rect x="306" y="584" width="8" height="8" fill="#800000"/>
<text class="lg" x="318.2" y="592" font-size="12" fill="#303030" lengthAdjust="spacingAndGlyphs" textLength="7.8">C</text>
<rect x="332" y="584" width="8" height="8" fill="#8080ff"/>
<text class="lg" x="343.7" y="592" font-size="12" fill="#303030" lengthAdjust="spacingAndGlyphs" textLength="35.8">N (HF)</text>
<rect x="386" y="584" width="8" height="8" fill="#000080"/>
<text class="lg" x="397.4" y="592" font-size="12" fill="#303030" lengthAdjust="spacingAndGlyphs" textLength="8.4">N</text>
<line x1="413" y1="588" x2="427.5" y2="588" stroke="#000" stroke-width="1"/>
<rect x="417" y="584.5" width="7" height="7" fill="#000"/>
<text class="lg" x="431.5" y="592" font-size="12" fill="#303030" lengthAdjust="spacingAndGlyphs" textLength="61">Availability</text>
<line x1="497.5" y1="588" x2="514" y2="588" stroke="#000" stroke-width="2" stroke-dasharray="8.5 4.2"/>
<circle cx="505.5" cy="588" r="3.5" fill="#000"/>
<text class="lg" x="516.5" y="592" font-size="12" fill="#303030" lengthAdjust="spacingAndGlyphs" textLength="79.8">Availability (K)</text>
<line x1="602.5" y1="588" x2="619" y2="588" stroke="#000" stroke-width="2" stroke-dasharray="4.2 2.1"/>
<path d="M610.5 584 L614.3 591.5 L606.7 591.5 Z" fill="#000"/>
<text class="lg" x="621.5" y="592" font-size="12" fill="#303030" lengthAdjust="spacingAndGlyphs" textLength="81.3">Availability (Q)</text>
</svg></body></html>
